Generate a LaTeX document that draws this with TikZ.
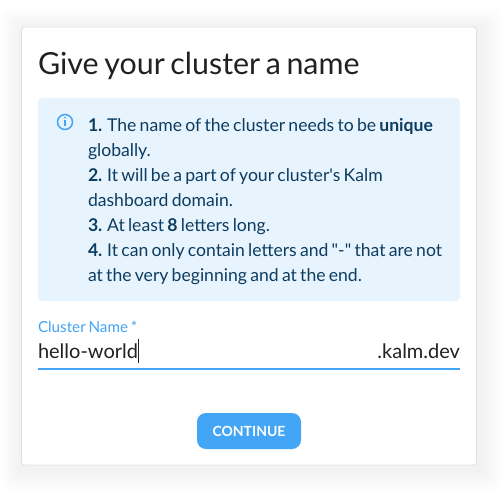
\documentclass[tikz,border=0pt]{standalone}
\usepackage{fontspec}
\defaultfontfeatures[\rmfamily]{}
\setmainfont{Lato}[WordSpace=0.72]
\definecolor{kalmblue}{HTML}{42A5F5}
\definecolor{infobg}{HTML}{E8F4FD}
\definecolor{infotext}{HTML}{0D3C61}
\definecolor{inktext}{HTML}{212121}
\definecolor{cardline}{HTML}{E0E0E0}

\begin{document}
\begin{tikzpicture}[x=1pt,y=-1pt,every node/.style={inner sep=0pt,outer sep=0pt}]
  \tikzset{
    info/.style={anchor=north west,align=flush left,text=infotext,font=\fontsize{17.6}{25.1}\selectfont},
    title/.style={anchor=base west,text=inktext,font=\fontsize{30.4}{34}\selectfont},
    field/.style={text=inktext,font=\fontsize{20}{24}\selectfont},
    label/.style={anchor=base west,text=kalmblue,font=\fontsize{15.2}{18}\selectfont},
    button/.style={fill=kalmblue,rounded corners=9pt,minimum width=104pt,minimum height=36pt,text=white,font=\fontsize{14}{17}\selectfont\bfseries}
  }
  \useasboundingbox (0,0) rectangle (503,492);

  % soft shadow behind the card
  \foreach \s in {18,15,...,3}
    \fill[black,opacity=.008,rounded corners=8pt] (20-\s,27-\s) rectangle (483+\s,472+\s);
  \fill[black!5] (20,30) rectangle (483,472);

  \node[draw=cardline,fill=white,line width=.8pt,rounded corners=3pt,minimum width=455pt,minimum height=438pt,anchor=north west] (card) at (21.5,27) {};
  \node[title] (heading) at (38,74.5) {Give your cluster a name};

  \node[fill=infobg,rounded corners=4pt,minimum width=422pt,minimum height=203pt,anchor=north west] (infobox) at (38,98) {};
  \node[draw=kalmblue,line width=1.5pt,circle,minimum size=15pt] (icon) at (65,122) {};
  \fill[kalmblue] (65,117.6) circle (1pt);
  \draw[kalmblue,line width=1.5pt] (65,120.5) -- (65,126.5);
  \node[info] (rules) at (88,118) {\textbf{1.} The name of the cluster needs to be \textbf{unique}\\
    globally.\\
    \textbf{2.} It will be a part of your cluster's Kalm\\
    dashboard domain.\\
    \textbf{3.} At least \textbf{8} letters long.\\
    \textbf{4.} It can only contain letters and "-" that are not\\
    at the very beginning and at the end.};

  \node[label] (fieldname) at (38,332) {Cluster Name *};
  \node[field,anchor=base west] (fieldvalue) at (38,358) {hello-world};
  \node[field,anchor=base east] (domain) at (460,358) {.kalm.dev};
  \draw[inktext,line width=.8pt] (fieldvalue.east|-0,339) -- (fieldvalue.east|-0,363);
  \draw[kalmblue,line width=2pt] (38,369) -- (460,369);

  \node[button] (continue) at (249,431) {CONTINUE};
\end{tikzpicture}
\end{document}
